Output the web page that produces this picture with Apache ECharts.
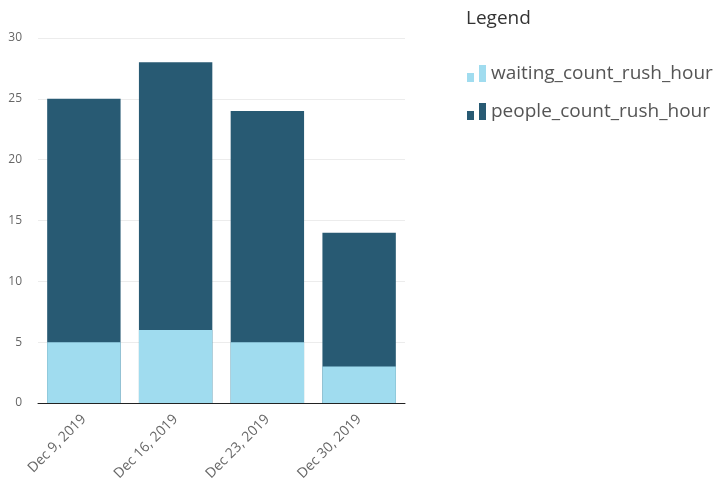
<!DOCTYPE html>
<html>
<head>
<meta charset="utf-8">
<script src="https://cdn.jsdelivr.net/npm/echarts@6/dist/echarts.min.js"></script>
<style>html,body{margin:0;padding:0;background:#fff}#c{width:723px;height:490px}</style>
</head>
<body>
<div id="c"></div>
<script>
const categories = ['Dec 9, 2019', 'Dec 16, 2019', 'Dec 23, 2019', 'Dec 30, 2019'];
const waitingCount = [5, 6, 5, 3];
const peopleCount = [25, 28, 24, 14];
const yTicks = [0, 5, 10, 15, 20, 25, 30];

const icon = 'path://M0,8H7V17H0Z M12,0H19V17H12Z';
const chart = echarts.init(document.getElementById('c'));
chart.setOption({
  animation: false,
  textStyle: { fontFamily: 'Open Sans, sans-serif' },
  title: {
    text: 'Legend', left: 461, top: 4,
    textStyle: { fontSize: 19, fontWeight: 'normal', color: '#333', fontFamily: 'Open Sans, sans-serif' }
  },
  legend: {
    orient: 'vertical', left: 462, top: 59, itemGap: 19,
    itemWidth: 19, itemHeight: 17,
    data: [
      { name: 'waiting_count_rush_hour', icon: icon },
      { name: 'people_count_rush_hour', icon: icon }
    ],
    textStyle: { fontSize: 19, color: '#555', padding: [0, 0, 0, 0] }
  },
  grid: { left: 38, right: 318, top: 38, bottom: 87 },
  xAxis: {
    type: 'category', data: categories,
    axisLine: { lineStyle: { color: '#222', width: 1 } },
    axisTick: { length: 5, lineStyle: { color: '#222' } },
    axisLabel: { rotate: 45, fontSize: 14, color: '#666', margin: 14 }
  },
  yAxis: {
    type: 'value', min: yTicks[0], max: yTicks[yTicks.length - 1], interval: 5,
    axisLine: { show: false }, axisTick: { show: false },
    axisLabel: { fontSize: 12, color: '#666', margin: 16 },
    splitLine: { lineStyle: { color: '#ececec' } }
  },
  series: [
    {
      name: 'people_count_rush_hour', type: 'bar', data: peopleCount,
      barCategoryGap: '20%', barGap: '-100%',
      itemStyle: { color: '#285a73' }
    },
    {
      name: 'waiting_count_rush_hour', type: 'bar', data: waitingCount,
      barCategoryGap: '20%', barGap: '-100%',
      itemStyle: { color: '#a0dcef' }
    }
  ]
});
</script>
</body>
</html>
